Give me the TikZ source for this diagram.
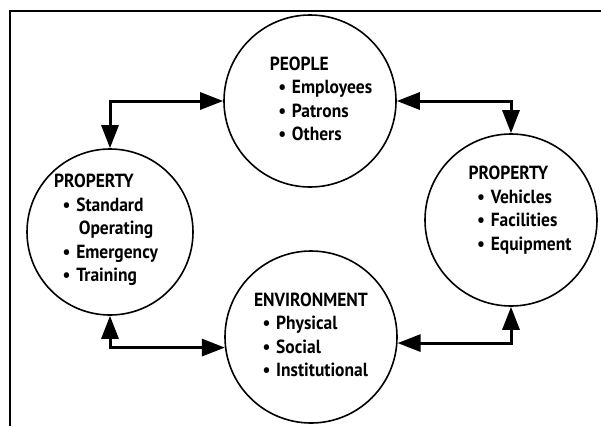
\documentclass[tikz,border=0pt]{standalone}
\usepackage{fontspec}
\setmainfont{PT Sans}[FakeStretch=0.92]
\usetikzlibrary{arrows.meta}
\newcommand{\itm}[1]{\hspace*{0.45em}\textbullet\hspace{0.3em}#1}

\begin{document}
\begin{tikzpicture}[
		x=1pt, y=-1pt,
		ring/.style={circle,draw,line width=1.6pt,inner sep=0pt,minimum size=172pt},
		txt/.style={align=left,inner sep=0pt,font=\bfseries\fontsize{19}{23.5}\selectfont},
		tip/.tip={Triangle[length=23pt,width=17pt]},
		conn/.style={tip-tip,line width=3pt}]
	\useasboundingbox (0,0) rectangle (601,426);
	%% define frame
	\draw[line width=1.6pt] (10,426) -- (10,11) -- (601,11);
	%% define circles
	\node (people) at (310,101) [ring] {};
	\node (leftc) at (110,232) [ring,minimum size=166pt] {};
	\node (rightc) at (511,220) [ring] {};
	\node (envc) at (311,337) [ring] {};
	%% define texts
	\node (peopletxt) at (321,99) [txt] {PEOPLE\\ \itm{Employees}\\ \itm{Patrons}\\ \itm{Others}};
	\node (lefttxt) at (106,230) [txt] {PROPERTY\\ \itm{Standard}\\ \hspace*{1.3em}Operating\\ \itm{Emergency}\\ \itm{Training}};
	\node (righttxt) at (520,210) [txt] {PROPERTY\\ \itm{Vehicles}\\ \itm{Facilities}\\ \itm{Equipment}};
	\node (envtxt) at (311,335) [txt] {ENVIRONMENT\\ \itm{Physical}\\ \itm{Social}\\ \itm{Institutional}};
	%% define arrows
	\draw[conn] (people.west) -| (leftc.north);
	\draw[conn] (people.east) -| (rightc.north);
	\draw[conn] (envc.187) -| (leftc.south);
	\draw[conn] (envc.356) -| (rightc.south);
\end{tikzpicture}
\end{document}
